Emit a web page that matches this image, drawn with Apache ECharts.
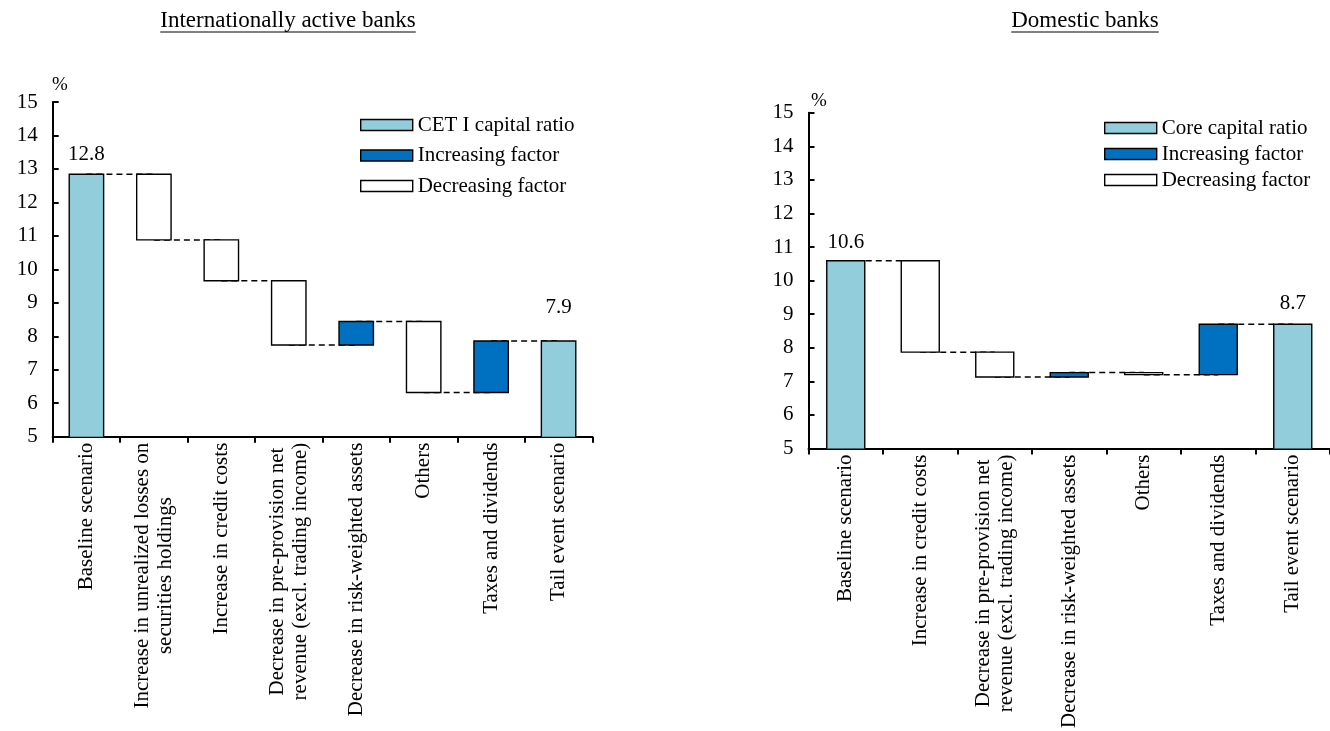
<!DOCTYPE html>
<html>
<head>
<meta charset="utf-8">
<script src="https://cdn.jsdelivr.net/npm/echarts@6/dist/echarts.min.js"></script>
<style>
html,body{margin:0;padding:0;background:#fff;}
#chart{width:1330px;height:731px;}
</style>
</head>
<body>
<div id="chart"></div>
<script>
// ---------------- DATA ----------------
const intlTitle = 'Internationally active banks';
const domTitle = 'Domestic banks';
const intlCategories = [
  'Baseline scenario',
  'Increase in unrealized losses on\nsecurities holdings',
  'Increase in credit costs',
  'Decrease in pre-provision net\nrevenue (excl. trading income)',
  'Decrease in risk-weighted assets',
  'Others',
  'Taxes and dividends',
  'Tail event scenario'
];
// running capital ratio (%) after each item
const intlLevels = [12.84, 10.88, 9.66, 7.74, 8.44, 6.32, 7.86, 7.86];
const intlKinds = ['total', 'step', 'step', 'step', 'step', 'step', 'step', 'total'];

const domCategories = [
  'Baseline scenario',
  'Increase in credit costs',
  'Decrease in pre-provision net\nrevenue (excl. trading income)',
  'Decrease in risk-weighted assets',
  'Others',
  'Taxes and dividends',
  'Tail event scenario'
];
const domLevels = [10.59, 7.87, 7.13, 7.26, 7.20, 8.70, 8.70];
const domKinds = ['total', 'step', 'step', 'step', 'step', 'step', 'total'];

const intlLegend = ['CET I capital ratio', 'Increasing factor', 'Decreasing factor'];
const domLegend = ['Core capital ratio', 'Increasing factor', 'Decreasing factor'];
const yTicks = {min: 5, max: 15, interval: 1};

// ---------------- STYLE ----------------
const FONT = '"Liberation Serif", "Times New Roman", Times, serif';
const FS = 21;
const TITLE_FS = 23;
const C_TOTAL = '#92CDDC';
const C_INC = '#0070C0';
const C_DEC = '#FFFFFF';
const BAR_FRAC = 0.51;
// label lift above total bars (px), per panel: [first, last]
const labelLift = [[20, 33], [18, 21]];

function buildSeriesData(levels, kinds) {
  const tot = [], inc = [], dec = [], conn = [];
  levels.forEach((v, i) => {
    if (kinds[i] === 'total') {
      tot.push([i, 0, v]);
    } else {
      const p = levels[i - 1];
      if (v >= p) inc.push([i, p, v]); else dec.push([i, v, p]);
    }
    if (i < levels.length - 1) conn.push([i, v]);
  });
  return {tot, inc, dec, conn};
}

function barRender(fill) {
  return function (params, api) {
    const x = api.value(0), lo = api.value(1), hi = api.value(2);
    const pHi = api.coord([x, hi]);
    const pLo = api.coord([x, lo]);
    const w = api.size([1, 0])[0] * BAR_FRAC;
    return {
      type: 'rect',
      shape: {x: pHi[0] - w / 2, y: pHi[1], width: w, height: pLo[1] - pHi[1]},
      style: {fill: fill, stroke: '#000', lineWidth: 1.4}
    };
  };
}

function labelRender(panel) {
  return function (params, api) {
    const x = api.value(0), hi = api.value(2);
    const p = api.coord([x, hi]);
    const lift = labelLift[panel][x === 0 ? 0 : 1];
    return {
      type: 'text',
      x: p[0], y: p[1] - lift,
      style: {text: hi.toFixed(1), font: FS + 'px ' + FONT, fill: '#000', align: 'center', verticalAlign: 'middle'}
    };
  };
}

function connRender(params, api) {
  const x = api.value(0), v = api.value(1);
  const a = api.coord([x, v]);
  const b = api.coord([x + 1, v]);
  return {
    type: 'line',
    shape: {x1: a[0], y1: a[1], x2: b[0], y2: b[1]},
    style: {stroke: '#000', lineWidth: 1.5, lineDash: [6, 4]}
  };
}

function panelSeries(panel, levels, kinds, names) {
  const d = buildSeriesData(levels, kinds);
  const ax = {xAxisIndex: panel, yAxisIndex: panel};
  return [
    Object.assign({type: 'custom', name: 'conn' + panel, data: d.conn, renderItem: connRender, z: 2, silent: true}, ax),
    Object.assign({type: 'custom', name: names[0], data: d.tot, renderItem: barRender(C_TOTAL), clip: true, z: 3,
      itemStyle: {color: C_TOTAL, borderColor: '#000', borderWidth: 1.4}, encode: {x: 0, y: [1, 2]}}, ax),
    Object.assign({type: 'custom', name: names[1], data: d.inc, renderItem: barRender(C_INC), clip: true, z: 3,
      itemStyle: {color: C_INC, borderColor: '#000', borderWidth: 1.4}, encode: {x: 0, y: [1, 2]}}, ax),
    Object.assign({type: 'custom', name: names[2], data: d.dec, renderItem: barRender(C_DEC), clip: true, z: 3,
      itemStyle: {color: C_DEC, borderColor: '#000', borderWidth: 1.4}, encode: {x: 0, y: [1, 2]}}, ax),
    Object.assign({type: 'custom', name: 'lbl' + panel, data: d.tot, renderItem: labelRender(panel), z: 4, silent: true,
      encode: {x: 0, y: [1, 2]}}, ax)
  ];
}

function xAxisCfg(i, cats) {
  return {
    type: 'category', gridIndex: i, data: cats,
    axisLine: {lineStyle: {color: '#000', width: 2}},
    axisTick: {show: true, length: 6, lineStyle: {color: '#000', width: 2}},
    axisLabel: {
      rotate: 90, margin: 6, interval: 0, color: '#000', fontSize: FS, fontFamily: FONT,
      formatter: v => v.split('\n').map(l => '{c|' + l + '}').join('\n'),
      rich: {c: {align: 'center', fontSize: FS, fontFamily: FONT, color: '#000', lineHeight: 23}}
    },
    splitLine: {show: false}
  };
}
function yAxisCfg(i) {
  return {
    type: 'value', gridIndex: i, min: yTicks.min, max: yTicks.max, interval: yTicks.interval,
    axisLine: {show: true, lineStyle: {color: '#000', width: 2}},
    axisTick: {show: true, inside: true, length: 6, lineStyle: {color: '#000', width: 2}},
    axisLabel: {color: '#000', fontSize: FS, fontFamily: FONT, margin: 15},
    splitLine: {show: false}
  };
}
function legendCfg(names, left, top, gap) {
  const cols = [C_TOTAL, C_INC, C_DEC];
  return {
    orient: 'vertical', left: left, top: top, itemWidth: 52, itemHeight: 11, itemGap: gap,
    padding: 0, selectedMode: false, icon: 'rect',
    textStyle: {fontSize: FS, fontFamily: FONT, color: '#000'},
    data: names.map((n, k) => ({name: n, icon: 'rect', itemStyle: {color: cols[k], borderColor: '#000', borderWidth: 1.4}}))
  };
}

function measure(t, font) {
  const c = document.createElement('canvas').getContext('2d');
  c.font = font; return c.measureText(t).width;
}
function titleGraphic(text, cx, cy) {
  const font = TITLE_FS + 'px ' + FONT;
  const w = measure(text, font);
  return [
    {type: 'text', x: cx, y: cy, style: {text: text, font: font, fill: '#000', align: 'center', verticalAlign: 'middle'}},
    {type: 'line', shape: {x1: cx - w / 2, y1: cy + 11, x2: cx + w / 2, y2: cy + 11}, style: {stroke: '#000', lineWidth: 1}}
  ];
}

const chart = echarts.init(document.getElementById('chart'), null, {renderer: 'canvas'});
const option = {
  animation: false,
  backgroundColor: '#fff',
  textStyle: {fontFamily: FONT},
  grid: [
    {left: 52.7, top: 102, width: 539.6, height: 334.7},
    {left: 808.5, top: 112.7, width: 536.2, height: 339}
  ],
  xAxis: [xAxisCfg(0, intlCategories), xAxisCfg(1, domCategories)],
  yAxis: [yAxisCfg(0), yAxisCfg(1)],
  legend: [legendCfg(intlLegend, 360, 114.5, 9.5), legendCfg(domLegend, 1104, 117.5, 5)],
  graphic: [].concat(
    titleGraphic(intlTitle, 288, 21),
    titleGraphic(domTitle, 1085, 21),
    [
      {type: 'text', x: 52, y: 76, style: {text: '%', font: '19px ' + FONT, fill: '#000'}},
      {type: 'text', x: 811, y: 92, style: {text: '%', font: '19px ' + FONT, fill: '#000'}}
    ]
  ),
  series: [].concat(
    panelSeries(0, intlLevels, intlKinds, intlLegend),
    panelSeries(1, domLevels, domKinds, domLegend)
  )
};
chart.setOption(option);
</script>
</body>
</html>
